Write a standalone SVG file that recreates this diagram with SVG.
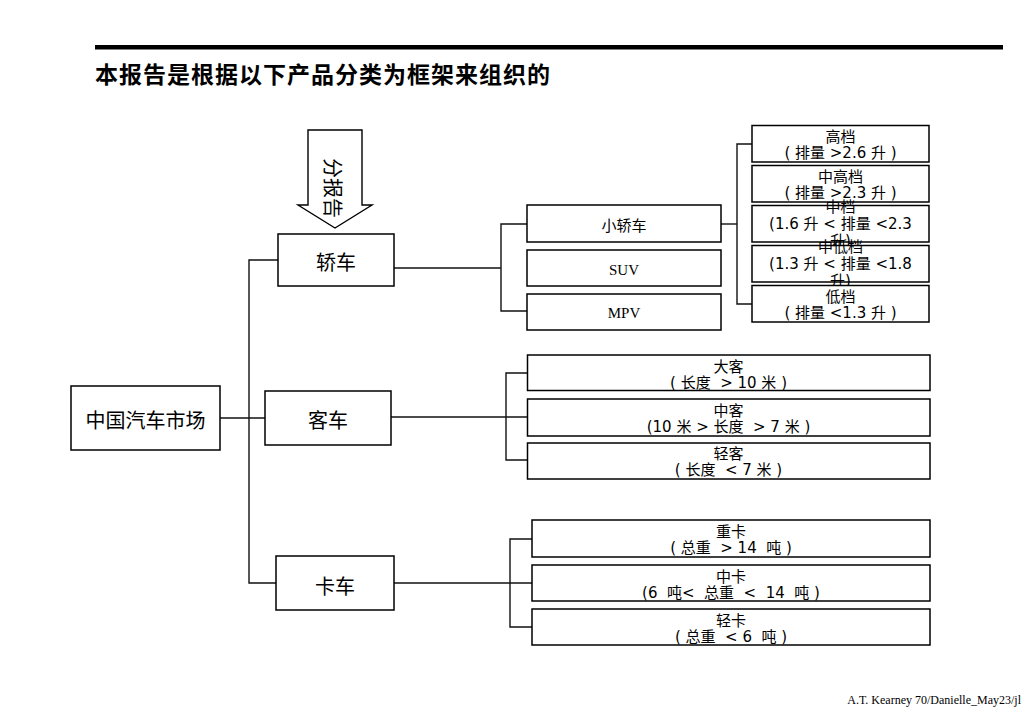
<svg xmlns="http://www.w3.org/2000/svg" width="1024" height="709" viewBox="0 0 1024 709">
<style>
.box{fill:#fff;stroke:#000;stroke-width:1.5}
.ln{fill:none;stroke:#111;stroke-width:1.4}
.t{font-family:"DejaVu Sans","Noto Sans CJK SC",sans-serif;font-size:15px;fill:#000;text-anchor:middle;white-space:pre}
.big{font-family:"Noto Sans CJK SC","DejaVu Sans",sans-serif;font-size:20px;fill:#000;text-anchor:middle}
.ser{font-family:"Liberation Serif","Times New Roman",serif;font-size:15px;fill:#000;text-anchor:middle}
</style>
<rect x="95" y="45" width="908" height="4.5" fill="#000"/>
<text x="95" y="83" font-family="'Noto Sans CJK SC',sans-serif" font-weight="bold" font-size="23" textLength="455" lengthAdjust="spacing">本报告是根据以下产品分类为框架来组织的</text>

<g id="arrow">
<polygon points="308,130 362,130 362,205 372,205 335,228 298,205 308,205" fill="#fff" stroke="#000" stroke-width="1.4"/>
<text class="big" transform="translate(333,188) rotate(90)" dominant-baseline="central">分报告</text>
</g>

<g id="connectors">
<polyline class="ln" points="220,418 265,418"/>
<polyline class="ln" points="278,260 249,260 249,583 276,583"/>
<polyline class="ln" points="394,268 501,268"/>
<polyline class="ln" points="527,224 501,224 501,311 527,311"/>
<polyline class="ln" points="721,224 737,224"/>
<polyline class="ln" points="752,144 737,144 737,304 752,304"/>
<polyline class="ln" points="391,417 506,417 527,417"/>
<polyline class="ln" points="527,373 506,373 506,460 527,460"/>
<polyline class="ln" points="394,583 532,583"/>
<polyline class="ln" points="532,539 510,539 510,627 532,627"/>
</g>

<g id="root"><rect class="box" x="71" y="386" width="149" height="64"/><text class="big" x="145.5" y="428">中国汽车市场</text></g>
<g id="jiaoche"><rect class="box" x="278" y="234" width="116" height="52"/><text class="big" x="336" y="270">轿车</text></g>
<g id="keche"><rect class="box" x="265" y="391" width="126" height="54"/><text class="big" x="328" y="428">客车</text></g>
<g id="kache"><rect class="box" x="276" y="556" width="118" height="54"/><text class="big" x="335" y="594">卡车</text></g>

<g id="xiaojiaoche"><rect class="box" x="527" y="205" width="194" height="37"/><text class="t" x="624" y="231">小轿车</text></g>
<g id="suv"><rect class="box" x="527" y="250" width="194" height="36"/><text class="ser" x="624" y="275">SUV</text></g>
<g id="mpv"><rect class="box" x="527" y="294" width="194" height="36"/><text class="ser" x="624" y="318">MPV</text></g>

<g id="gaodang"><rect class="box" x="752" y="125.5" width="177" height="36.5"/><text class="t" x="840.5" y="142">高档</text><text class="t" x="840.5" y="158">(&#160;排量&#160;&gt;2.6&#160;升&#160;)</text></g>
<g id="zhonggaodang"><rect class="box" x="752" y="165.5" width="177" height="36.5"/><text class="t" x="840.5" y="182">中高档</text><text class="t" x="840.5" y="198">(&#160;排量&#160;&gt;2.3&#160;升&#160;)</text></g>
<g id="zhongdang"><rect class="box" x="752" y="205.5" width="177" height="36.5"/><text class="t" x="840.5" y="212">中档</text><text class="t" x="840.5" y="229">(1.6&#160;升&#160;&lt;&#160;排量&#160;&lt;2.3</text><text class="t" x="840.5" y="246">升)</text></g>
<g id="zhongdidang"><rect class="box" x="752" y="245.5" width="177" height="36.5"/><text class="t" x="840.5" y="252">中低档</text><text class="t" x="840.5" y="269">(1.3&#160;升&#160;&lt;&#160;排量&#160;&lt;1.8</text><text class="t" x="840.5" y="286">升)</text></g>
<g id="didang"><rect class="box" x="752" y="285.5" width="177" height="36.5"/><text class="t" x="840.5" y="302">低档</text><text class="t" x="840.5" y="318">(&#160;排量&#160;&lt;1.3&#160;升&#160;)</text></g>

<g id="dake"><rect class="box" x="527.5" y="355" width="402.5" height="35.5"/><text class="t" x="728.5" y="372">大客</text><text class="t" x="728.5" y="388">(&#160;长度&#160;&#160;&gt;&#160;10&#160;米&#160;)</text></g>
<g id="zhongke"><rect class="box" x="527.5" y="399" width="402.5" height="37"/><text class="t" x="728.5" y="416">中客</text><text class="t" x="728.5" y="432">(10&#160;米&#160;&gt;&#160;长度&#160;&#160;&gt;&#160;7&#160;米&#160;)</text></g>
<g id="qingke"><rect class="box" x="527.5" y="443" width="402.5" height="36"/><text class="t" x="728.5" y="459">轻客</text><text class="t" x="728.5" y="475">(&#160;长度&#160;&#160;&lt;&#160;7&#160;米&#160;)</text></g>

<g id="zhongka"><rect class="box" x="532" y="520" width="398" height="37"/><text class="t" x="731" y="537">重卡</text><text class="t" x="731" y="553">(&#160;总重&#160;&#160;&gt;&#160;14&#160;&#160;吨&#160;)</text></g>
<g id="zhongka2"><rect class="box" x="532" y="565" width="398" height="36"/><text class="t" x="731" y="582">中卡</text><text class="t" x="731" y="598">(6&#160;&#160;吨&lt;&#160;&#160;总重&#160;&#160;&lt;&#160;&#160;14&#160;&#160;吨&#160;)</text></g>
<g id="qingka"><rect class="box" x="532" y="609" width="398" height="36"/><text class="t" x="731" y="626">轻卡</text><text class="t" x="731" y="642">(&#160;总重&#160;&#160;&lt;&#160;6&#160;&#160;吨&#160;)</text></g>

<text x="1021" y="704" text-anchor="end" font-family="'Liberation Serif',serif" font-size="12" fill="#000">A.T. Kearney 70/Danielle_May23/jl</text>
</svg>
